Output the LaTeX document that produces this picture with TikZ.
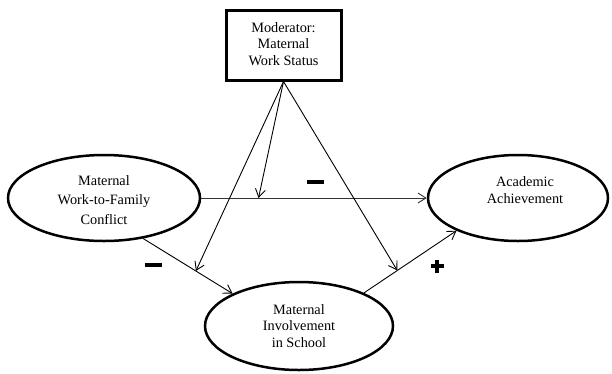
\documentclass[tikz,border=0pt]{standalone}
\usepackage{fontspec}
\setmainfont{Liberation Serif}
\usetikzlibrary{arrows.meta,shapes.geometric}
\tikzset{
  ell/.style={ellipse, draw, line width=2.5pt, inner sep=0pt},
  lbl/.style={align=center, font=\fontsize{14.3}{16.5}\selectfont, inner sep=0pt},
  modbox/.style={draw, line width=3pt, inner sep=0pt},
  arr/.style={line width=0.9pt, -{Straight Barb[length=8pt,width=10pt]}},
  conn/.style={line width=0.9pt},
}
\begin{document}
\begin{tikzpicture}[x=1pt,y=-1pt]
\useasboundingbox (0,0) rectangle (612,373);
% moderator box
\node[modbox, minimum width=115pt, minimum height=70pt] (M) at (283.5,45) {};
\node[lbl] (Mt) at (283.5,44) {Moderator:\\Maternal\\Work Status};
% ellipses
\node[ell, minimum width=192pt, minimum height=86pt] (L) at (104,198) {};
\node[lbl, font=\fontsize{14.3}{19.5}\selectfont] (Lt) at (104,200) {Maternal\\Work-to-Family\\Conflict};
\node[ell, minimum width=180pt, minimum height=86pt] (R) at (518,198) {};
\node[lbl] (Rt) at (525,190) {Academic\\Achievement};
\node[ell, minimum width=188pt, minimum height=88pt] (B) at (299,326) {};
\node[lbl] (Bt) at (299,326) {Maternal\\Involvement\\in School};
% main paths
\draw[arr, black!80] (L.east) -- coordinate[pos=0.254] (t1) (R.west);
\draw[arr] (L.-46) -- coordinate[pos=0.59] (t2) (B.154);
\draw[arr] (B.27) -- coordinate[pos=0.36] (t3) (R.-152);
% moderator arrows
\draw[arr] (M.south) -- (t1);
\draw[arr] (M.south) -- (t2);
\draw[arr] (M.south) -- (t3);
% signs
\fill (306.5,180) rectangle (323.5,184);
\fill (144.5,263) rectangle (161.5,267);
\fill (430.5,264) rectangle (443.5,268);
\fill (435,259.5) rectangle (439,272.5);
\end{tikzpicture}
\end{document}
